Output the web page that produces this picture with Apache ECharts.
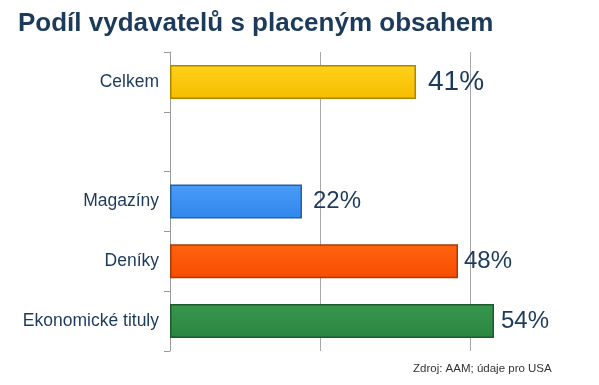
<!DOCTYPE html>
<html><head><meta charset="utf-8">
<script src="https://cdn.jsdelivr.net/npm/echarts@6/dist/echarts.min.js"></script>
<style>html,body{margin:0;padding:0;background:#fff}#c{width:599px;height:385px}</style>
</head><body><div id="c"></div>
<script>
const titleText = 'Podíl vydavatelů s placeným obsahem';
const sourceText = 'Zdroj: AAM; údaje pro USA';
const categories = ['Celkem', '', 'Magazíny', 'Deníky', 'Ekonomické tituly'];
const values = [41, null, 22, 48, 54];
const valueLabels = ['41%', '', '22%', '48%', '54%'];

const fills = [['#ffd21a', '#f5bd00'], null, ['#4a9cf7', '#2f86ec'], ['#ff6410', '#f84c00'], ['#36974c', '#2b8540']];
const borders = ['#b08600', null, '#2a5fa0', '#a83a05', '#1e5a2c'];
const labelSizes = [28, 0, 24, 24, 24];
const labelGaps = [12, 0, 11, 6, 7];
const navy = '#1c3a5c';

const chart = echarts.init(document.getElementById('c'), null, {renderer: 'canvas'});
const data = values.map((v, i) => {
  if (v === null) return null;
  return {
    value: v,
    itemStyle: {
      color: new echarts.graphic.LinearGradient(0, 0, 0, 1, [
        {offset: 0, color: fills[i][0]}, {offset: 1, color: fills[i][1]}
      ]),
      borderColor: borders[i], borderWidth: 1.5
    },
    label: {fontSize: labelSizes[i], distance: labelGaps[i], formatter: valueLabels[i]}
  };
});
chart.setOption({
  animation: false,
  textStyle: {fontFamily: 'Liberation Sans, Arial, sans-serif'},
  title: [{
    text: titleText, left: 13, top: 6,
    textStyle: {fontSize: 26, fontWeight: 'bold', color: navy, fontFamily: 'Liberation Sans, Arial, sans-serif'}
  }, {
    text: sourceText, left: 408, top: 358,
    textStyle: {fontSize: 11.5, fontWeight: 'normal', color: '#333', fontFamily: 'Liberation Sans, Arial, sans-serif'}
  }],
  grid: {left: 170, right: 69, top: 52, bottom: 34, containLabel: false},
  xAxis: {
    type: 'value', min: 0, max: 60, interval: 25,
    axisLabel: {show: false}, axisLine: {show: false}, axisTick: {show: false},
    splitLine: {show: true, showMinLine: false, showMaxLine: false, lineStyle: {color: '#a8a8a8', width: 1}}
  },
  yAxis: {
    type: 'category', data: categories, inverse: true,
    axisLine: {show: true, lineStyle: {color: '#9a9a9a', width: 1}},
    axisTick: {show: true, length: 6, lineStyle: {color: '#9a9a9a'}},
    axisLabel: {fontSize: 17.5, color: navy, margin: 11}
  },
  series: [{
    type: 'bar', data: data, barWidth: 34,
    label: {show: true, position: 'right', color: navy}
  }]
});
</script></body></html>
